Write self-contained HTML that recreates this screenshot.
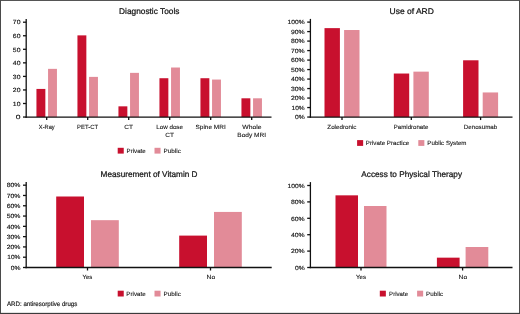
<!DOCTYPE html>
<html><head><meta charset="utf-8"><title>Figure</title>
<style>
html,body{margin:0;padding:0;background:#fff;}
body{width:520px;height:314px;overflow:hidden;position:relative;}
svg{position:absolute;left:0;top:0;display:block;will-change:transform;opacity:0.9999;}
text{font-family:"Liberation Sans",sans-serif;fill:#151515;stroke:#151515;stroke-width:0.15px;text-rendering:geometricPrecision;}
text.t{stroke-width:0.24px;}
text.c{stroke-width:0.1px;}
</style></head><body>
<svg width="520" height="314" viewBox="0 0 520 314">
<rect x="0" y="0" width="520" height="314" fill="#ffffff"/>
<rect x="36.45" y="88.93" width="8.90" height="28.12" fill="#c8102e"/>
<rect x="48.05" y="68.85" width="8.90" height="48.20" fill="#e28b98"/>
<rect x="77.45" y="35.37" width="8.90" height="81.68" fill="#c8102e"/>
<rect x="89.05" y="76.88" width="8.90" height="40.17" fill="#e28b98"/>
<rect x="118.45" y="106.34" width="8.90" height="10.71" fill="#c8102e"/>
<rect x="130.05" y="72.86" width="8.90" height="44.19" fill="#e28b98"/>
<rect x="159.45" y="78.22" width="8.90" height="38.83" fill="#c8102e"/>
<rect x="171.05" y="67.51" width="8.90" height="49.54" fill="#e28b98"/>
<rect x="200.45" y="78.22" width="8.90" height="38.83" fill="#c8102e"/>
<rect x="212.05" y="79.56" width="8.90" height="37.49" fill="#e28b98"/>
<rect x="241.45" y="98.30" width="8.90" height="18.75" fill="#c8102e"/>
<rect x="253.05" y="98.30" width="8.90" height="18.75" fill="#e28b98"/>
<line x1="26.20" y1="18.90" x2="26.20" y2="117.70" stroke="#111111" stroke-width="1.3"/>
<line x1="25.55" y1="117.05" x2="271.50" y2="117.05" stroke="#111111" stroke-width="1.3"/>
<line x1="23.00" y1="117.05" x2="26.20" y2="117.05" stroke="#111111" stroke-width="1.3"/>
<text x="15.74" y="119.25" text-anchor="start" font-size="6.0" textLength="4.72" lengthAdjust="spacingAndGlyphs">0</text>
<line x1="23.00" y1="103.50" x2="26.20" y2="103.50" stroke="#111111" stroke-width="1.3"/>
<text x="12.84" y="105.70" text-anchor="start" font-size="6.0" textLength="7.62" lengthAdjust="spacingAndGlyphs">10</text>
<line x1="23.00" y1="89.95" x2="26.20" y2="89.95" stroke="#111111" stroke-width="1.3"/>
<text x="12.84" y="92.15" text-anchor="start" font-size="6.0" textLength="7.62" lengthAdjust="spacingAndGlyphs">20</text>
<line x1="23.00" y1="76.40" x2="26.20" y2="76.40" stroke="#111111" stroke-width="1.3"/>
<text x="12.84" y="78.60" text-anchor="start" font-size="6.0" textLength="7.62" lengthAdjust="spacingAndGlyphs">30</text>
<line x1="23.00" y1="62.85" x2="26.20" y2="62.85" stroke="#111111" stroke-width="1.3"/>
<text x="12.84" y="65.05" text-anchor="start" font-size="6.0" textLength="7.62" lengthAdjust="spacingAndGlyphs">40</text>
<line x1="23.00" y1="49.30" x2="26.20" y2="49.30" stroke="#111111" stroke-width="1.3"/>
<text x="12.84" y="51.50" text-anchor="start" font-size="6.0" textLength="7.62" lengthAdjust="spacingAndGlyphs">50</text>
<line x1="23.00" y1="35.75" x2="26.20" y2="35.75" stroke="#111111" stroke-width="1.3"/>
<text x="12.84" y="37.95" text-anchor="start" font-size="6.0" textLength="7.62" lengthAdjust="spacingAndGlyphs">60</text>
<line x1="23.00" y1="22.20" x2="26.20" y2="22.20" stroke="#111111" stroke-width="1.3"/>
<text x="12.84" y="24.40" text-anchor="start" font-size="6.0" textLength="7.62" lengthAdjust="spacingAndGlyphs">70</text>
<line x1="46.70" y1="117.05" x2="46.70" y2="120.05" stroke="#111111" stroke-width="1.3"/>
<text x="38.84" y="128.60" text-anchor="start" font-size="6.0" textLength="15.82" lengthAdjust="spacingAndGlyphs" class="c">X-Ray</text>
<line x1="87.70" y1="117.05" x2="87.70" y2="120.05" stroke="#111111" stroke-width="1.3"/>
<text x="77.04" y="128.60" text-anchor="start" font-size="6.0" textLength="21.02" lengthAdjust="spacingAndGlyphs" class="c">PET-CT</text>
<line x1="128.70" y1="117.05" x2="128.70" y2="120.05" stroke="#111111" stroke-width="1.3"/>
<text x="124.34" y="128.60" text-anchor="start" font-size="6.0" textLength="8.72" lengthAdjust="spacingAndGlyphs" class="c">CT</text>
<line x1="169.70" y1="117.05" x2="169.70" y2="120.05" stroke="#111111" stroke-width="1.3"/>
<text x="156.24" y="128.60" text-anchor="start" font-size="6.0" textLength="26.72" lengthAdjust="spacingAndGlyphs" class="c">Low dose</text>
<text x="165.24" y="136.70" text-anchor="start" font-size="6.0" textLength="8.72" lengthAdjust="spacingAndGlyphs" class="c">CT</text>
<line x1="210.70" y1="117.05" x2="210.70" y2="120.05" stroke="#111111" stroke-width="1.3"/>
<text x="195.44" y="128.60" text-anchor="start" font-size="6.0" textLength="30.32" lengthAdjust="spacingAndGlyphs" class="c">Spine MRI</text>
<line x1="251.70" y1="117.05" x2="251.70" y2="120.05" stroke="#111111" stroke-width="1.3"/>
<text x="242.24" y="128.60" text-anchor="start" font-size="6.0" textLength="19.22" lengthAdjust="spacingAndGlyphs" class="c">Whole</text>
<text x="237.34" y="136.70" text-anchor="start" font-size="6.0" textLength="28.72" lengthAdjust="spacingAndGlyphs" class="c">Body MRI</text>
<text x="119.10" y="13.50" text-anchor="start" font-size="8.3" textLength="60.30" lengthAdjust="spacingAndGlyphs" class="t">Diagnostic Tools</text>
<rect x="117.70" y="147.80" width="6.05" height="5.80" fill="#c8102e"/>
<text x="126.54" y="152.90" text-anchor="start" font-size="6.0" textLength="19.22" lengthAdjust="spacingAndGlyphs" class="c">Private</text>
<rect x="154.50" y="147.80" width="6.05" height="5.80" fill="#e28b98"/>
<text x="163.49" y="152.90" text-anchor="start" font-size="6.0" textLength="17.37" lengthAdjust="spacingAndGlyphs" class="c">Public</text>
<rect x="324.50" y="28.13" width="15.40" height="88.92" fill="#c8102e"/>
<rect x="344.10" y="30.02" width="15.40" height="87.03" fill="#e28b98"/>
<rect x="393.80" y="73.53" width="15.40" height="43.52" fill="#c8102e"/>
<rect x="413.40" y="71.64" width="15.40" height="45.41" fill="#e28b98"/>
<rect x="463.10" y="60.29" width="15.40" height="56.76" fill="#c8102e"/>
<rect x="482.70" y="92.45" width="15.40" height="24.60" fill="#e28b98"/>
<line x1="310.40" y1="18.90" x2="310.40" y2="117.70" stroke="#111111" stroke-width="1.3"/>
<line x1="309.75" y1="117.05" x2="512.50" y2="117.05" stroke="#111111" stroke-width="1.3"/>
<line x1="307.20" y1="117.05" x2="310.40" y2="117.05" stroke="#111111" stroke-width="1.3"/>
<text x="294.94" y="119.25" text-anchor="start" font-size="6.0" textLength="9.72" lengthAdjust="spacingAndGlyphs">0%</text>
<line x1="307.20" y1="107.55" x2="310.40" y2="107.55" stroke="#111111" stroke-width="1.3"/>
<text x="291.54" y="109.75" text-anchor="start" font-size="6.0" textLength="13.12" lengthAdjust="spacingAndGlyphs">10%</text>
<line x1="307.20" y1="98.06" x2="310.40" y2="98.06" stroke="#111111" stroke-width="1.3"/>
<text x="290.94" y="100.26" text-anchor="start" font-size="6.0" textLength="13.72" lengthAdjust="spacingAndGlyphs">20%</text>
<line x1="307.20" y1="88.56" x2="310.40" y2="88.56" stroke="#111111" stroke-width="1.3"/>
<text x="290.94" y="90.77" text-anchor="start" font-size="6.0" textLength="13.72" lengthAdjust="spacingAndGlyphs">30%</text>
<line x1="307.20" y1="79.07" x2="310.40" y2="79.07" stroke="#111111" stroke-width="1.3"/>
<text x="290.94" y="81.27" text-anchor="start" font-size="6.0" textLength="13.72" lengthAdjust="spacingAndGlyphs">40%</text>
<line x1="307.20" y1="69.57" x2="310.40" y2="69.57" stroke="#111111" stroke-width="1.3"/>
<text x="290.94" y="71.77" text-anchor="start" font-size="6.0" textLength="13.72" lengthAdjust="spacingAndGlyphs">50%</text>
<line x1="307.20" y1="60.08" x2="310.40" y2="60.08" stroke="#111111" stroke-width="1.3"/>
<text x="290.94" y="62.28" text-anchor="start" font-size="6.0" textLength="13.72" lengthAdjust="spacingAndGlyphs">60%</text>
<line x1="307.20" y1="50.58" x2="310.40" y2="50.58" stroke="#111111" stroke-width="1.3"/>
<text x="290.94" y="52.78" text-anchor="start" font-size="6.0" textLength="13.72" lengthAdjust="spacingAndGlyphs">70%</text>
<line x1="307.20" y1="41.09" x2="310.40" y2="41.09" stroke="#111111" stroke-width="1.3"/>
<text x="290.94" y="43.29" text-anchor="start" font-size="6.0" textLength="13.72" lengthAdjust="spacingAndGlyphs">80%</text>
<line x1="307.20" y1="31.59" x2="310.40" y2="31.59" stroke="#111111" stroke-width="1.3"/>
<text x="290.94" y="33.80" text-anchor="start" font-size="6.0" textLength="13.72" lengthAdjust="spacingAndGlyphs">90%</text>
<line x1="307.20" y1="22.10" x2="310.40" y2="22.10" stroke="#111111" stroke-width="1.3"/>
<text x="287.64" y="24.30" text-anchor="start" font-size="6.0" textLength="17.02" lengthAdjust="spacingAndGlyphs">100%</text>
<line x1="342.00" y1="117.05" x2="342.00" y2="120.05" stroke="#111111" stroke-width="1.3"/>
<text x="327.34" y="128.60" text-anchor="start" font-size="6.0" textLength="29.17" lengthAdjust="spacingAndGlyphs" class="c">Zoledronic</text>
<line x1="411.30" y1="117.05" x2="411.30" y2="120.05" stroke="#111111" stroke-width="1.3"/>
<text x="393.79" y="128.60" text-anchor="start" font-size="6.0" textLength="34.57" lengthAdjust="spacingAndGlyphs" class="c">Pamidronate</text>
<line x1="480.60" y1="117.05" x2="480.60" y2="120.05" stroke="#111111" stroke-width="1.3"/>
<text x="463.79" y="128.60" text-anchor="start" font-size="6.0" textLength="33.47" lengthAdjust="spacingAndGlyphs" class="c">Denosumab</text>
<text x="389.50" y="13.80" text-anchor="start" font-size="8.3" textLength="44.40" lengthAdjust="spacingAndGlyphs" class="t">Use of ARD</text>
<rect x="357.10" y="140.10" width="6.05" height="5.80" fill="#c8102e"/>
<text x="365.79" y="145.20" text-anchor="start" font-size="6.0" textLength="43.47" lengthAdjust="spacingAndGlyphs" class="c">Private Practice</text>
<rect x="418.30" y="140.10" width="6.05" height="5.80" fill="#e28b98"/>
<text x="427.34" y="145.20" text-anchor="start" font-size="6.0" textLength="39.17" lengthAdjust="spacingAndGlyphs" class="c">Public System</text>
<rect x="56.20" y="196.50" width="27.80" height="71.00" fill="#c8102e"/>
<rect x="91.00" y="220.17" width="27.80" height="47.33" fill="#e28b98"/>
<rect x="179.20" y="235.60" width="27.80" height="31.90" fill="#c8102e"/>
<rect x="214.00" y="211.93" width="27.80" height="55.57" fill="#e28b98"/>
<line x1="26.20" y1="182.10" x2="26.20" y2="268.15" stroke="#111111" stroke-width="1.3"/>
<line x1="25.55" y1="267.50" x2="271.70" y2="267.50" stroke="#111111" stroke-width="1.3"/>
<line x1="23.00" y1="267.50" x2="26.20" y2="267.50" stroke="#111111" stroke-width="1.3"/>
<text x="10.74" y="269.70" text-anchor="start" font-size="6.0" textLength="9.72" lengthAdjust="spacingAndGlyphs">0%</text>
<line x1="23.00" y1="257.21" x2="26.20" y2="257.21" stroke="#111111" stroke-width="1.3"/>
<text x="7.34" y="259.41" text-anchor="start" font-size="6.0" textLength="13.12" lengthAdjust="spacingAndGlyphs">10%</text>
<line x1="23.00" y1="246.92" x2="26.20" y2="246.92" stroke="#111111" stroke-width="1.3"/>
<text x="6.74" y="249.12" text-anchor="start" font-size="6.0" textLength="13.72" lengthAdjust="spacingAndGlyphs">20%</text>
<line x1="23.00" y1="236.63" x2="26.20" y2="236.63" stroke="#111111" stroke-width="1.3"/>
<text x="6.74" y="238.83" text-anchor="start" font-size="6.0" textLength="13.72" lengthAdjust="spacingAndGlyphs">30%</text>
<line x1="23.00" y1="226.34" x2="26.20" y2="226.34" stroke="#111111" stroke-width="1.3"/>
<text x="6.74" y="228.54" text-anchor="start" font-size="6.0" textLength="13.72" lengthAdjust="spacingAndGlyphs">40%</text>
<line x1="23.00" y1="216.05" x2="26.20" y2="216.05" stroke="#111111" stroke-width="1.3"/>
<text x="6.74" y="218.25" text-anchor="start" font-size="6.0" textLength="13.72" lengthAdjust="spacingAndGlyphs">50%</text>
<line x1="23.00" y1="205.76" x2="26.20" y2="205.76" stroke="#111111" stroke-width="1.3"/>
<text x="6.74" y="207.96" text-anchor="start" font-size="6.0" textLength="13.72" lengthAdjust="spacingAndGlyphs">60%</text>
<line x1="23.00" y1="195.47" x2="26.20" y2="195.47" stroke="#111111" stroke-width="1.3"/>
<text x="6.74" y="197.67" text-anchor="start" font-size="6.0" textLength="13.72" lengthAdjust="spacingAndGlyphs">70%</text>
<line x1="23.00" y1="185.18" x2="26.20" y2="185.18" stroke="#111111" stroke-width="1.3"/>
<text x="6.74" y="187.38" text-anchor="start" font-size="6.0" textLength="13.72" lengthAdjust="spacingAndGlyphs">80%</text>
<line x1="87.50" y1="267.50" x2="87.50" y2="270.50" stroke="#111111" stroke-width="1.3"/>
<text x="82.44" y="279.00" text-anchor="start" font-size="6.0" textLength="9.77" lengthAdjust="spacingAndGlyphs" class="c">Yes</text>
<line x1="210.50" y1="267.50" x2="210.50" y2="270.50" stroke="#111111" stroke-width="1.3"/>
<text x="206.54" y="279.00" text-anchor="start" font-size="6.0" textLength="8.72" lengthAdjust="spacingAndGlyphs" class="c">No</text>
<text x="100.60" y="177.20" text-anchor="start" font-size="8.3" textLength="96.90" lengthAdjust="spacingAndGlyphs" class="t">Measurement of Vitamin D</text>
<rect x="117.70" y="290.70" width="6.05" height="5.80" fill="#c8102e"/>
<text x="126.34" y="295.80" text-anchor="start" font-size="6.0" textLength="19.42" lengthAdjust="spacingAndGlyphs" class="c">Private</text>
<rect x="154.50" y="290.70" width="6.05" height="5.80" fill="#e28b98"/>
<text x="163.49" y="295.80" text-anchor="start" font-size="6.0" textLength="17.37" lengthAdjust="spacingAndGlyphs" class="c">Public</text>
<rect x="335.50" y="195.34" width="22.50" height="72.16" fill="#c8102e"/>
<rect x="364.00" y="206.00" width="22.50" height="61.50" fill="#e28b98"/>
<rect x="436.90" y="257.66" width="22.70" height="9.84" fill="#c8102e"/>
<rect x="465.60" y="247.00" width="22.70" height="20.50" fill="#e28b98"/>
<line x1="310.40" y1="182.10" x2="310.40" y2="268.15" stroke="#111111" stroke-width="1.3"/>
<line x1="309.75" y1="267.50" x2="512.50" y2="267.50" stroke="#111111" stroke-width="1.3"/>
<line x1="307.20" y1="267.50" x2="310.40" y2="267.50" stroke="#111111" stroke-width="1.3"/>
<text x="294.94" y="269.70" text-anchor="start" font-size="6.0" textLength="9.72" lengthAdjust="spacingAndGlyphs">0%</text>
<line x1="307.20" y1="251.10" x2="310.40" y2="251.10" stroke="#111111" stroke-width="1.3"/>
<text x="290.94" y="253.30" text-anchor="start" font-size="6.0" textLength="13.72" lengthAdjust="spacingAndGlyphs">20%</text>
<line x1="307.20" y1="234.70" x2="310.40" y2="234.70" stroke="#111111" stroke-width="1.3"/>
<text x="290.94" y="236.90" text-anchor="start" font-size="6.0" textLength="13.72" lengthAdjust="spacingAndGlyphs">40%</text>
<line x1="307.20" y1="218.30" x2="310.40" y2="218.30" stroke="#111111" stroke-width="1.3"/>
<text x="290.94" y="220.50" text-anchor="start" font-size="6.0" textLength="13.72" lengthAdjust="spacingAndGlyphs">60%</text>
<line x1="307.20" y1="201.90" x2="310.40" y2="201.90" stroke="#111111" stroke-width="1.3"/>
<text x="290.94" y="204.10" text-anchor="start" font-size="6.0" textLength="13.72" lengthAdjust="spacingAndGlyphs">80%</text>
<line x1="307.20" y1="185.50" x2="310.40" y2="185.50" stroke="#111111" stroke-width="1.3"/>
<text x="287.64" y="187.70" text-anchor="start" font-size="6.0" textLength="17.02" lengthAdjust="spacingAndGlyphs">100%</text>
<line x1="361.00" y1="267.50" x2="361.00" y2="270.50" stroke="#111111" stroke-width="1.3"/>
<text x="356.14" y="279.00" text-anchor="start" font-size="6.0" textLength="9.92" lengthAdjust="spacingAndGlyphs" class="c">Yes</text>
<line x1="462.60" y1="267.50" x2="462.60" y2="270.50" stroke="#111111" stroke-width="1.3"/>
<text x="458.54" y="279.00" text-anchor="start" font-size="6.0" textLength="8.72" lengthAdjust="spacingAndGlyphs" class="c">No</text>
<text x="361.35" y="177.10" text-anchor="start" font-size="8.3" textLength="100.65" lengthAdjust="spacingAndGlyphs" class="t">Access to Physical Therapy</text>
<rect x="379.80" y="290.70" width="6.05" height="5.80" fill="#c8102e"/>
<text x="389.14" y="295.80" text-anchor="start" font-size="6.0" textLength="18.92" lengthAdjust="spacingAndGlyphs" class="c">Private</text>
<rect x="417.10" y="290.70" width="6.05" height="5.80" fill="#e28b98"/>
<text x="426.14" y="295.80" text-anchor="start" font-size="6.0" textLength="17.02" lengthAdjust="spacingAndGlyphs" class="c">Public</text>
<text x="7.02" y="306.00" text-anchor="start" font-size="6.4" textLength="70.27" lengthAdjust="spacingAndGlyphs">ARD: antiresorptive drugs</text>
<rect x="0" y="0" width="520" height="1" fill="#555555"/><rect x="0" y="0" width="1" height="314" fill="#4a4a4a"/><rect x="519" y="0" width="1" height="314" fill="#4d4d4d"/><rect x="0" y="312.85" width="520" height="1.15" fill="#3c3c3c"/>
</svg>
</body></html>
